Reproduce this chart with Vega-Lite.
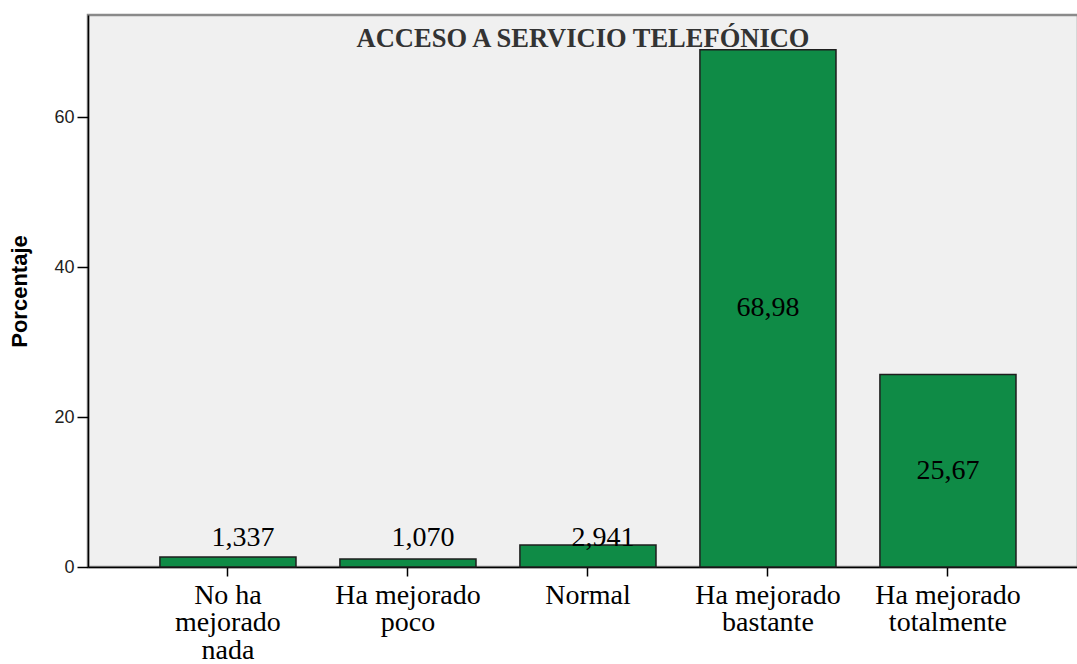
{
  "$schema": "https://vega.github.io/schema/vega-lite/v6.json",
  "autosize": "none",
  "padding": {"left": 88, "top": 15, "right": 0, "bottom": 97},
  "width": 990,
  "height": 552,
  "background": "white",
  "config": {
    "view": {"fill": "#f0f0f0", "stroke": "#8a8a8a", "strokeWidth": 2.5},
    "locale": {"number": {"decimal": ",", "thousands": ".", "grouping": [3], "currency": ["", ""]}}
  },
  "title": {
    "text": "ACCESO A SERVICIO TELEFÓNICO",
    "font": "Liberation Serif",
    "fontSize": 26.5,
    "fontWeight": "bold",
    "color": "#333333",
    "anchor": "middle",
    "baseline": "alphabetic",
    "offset": -58
  },
  "data": {
    "values": [
      {"categoria": "No ha mejorado nada", "porcentaje": 1.337},
      {"categoria": "Ha mejorado poco", "porcentaje": 1.070},
      {"categoria": "Normal", "porcentaje": 2.941},
      {"categoria": "Ha mejorado bastante", "porcentaje": 68.98},
      {"categoria": "Ha mejorado totalmente", "porcentaje": 25.67}
    ]
  },
  "layer": [
    {
      "mark": {"type": "bar", "fill": "#0f8b46", "stroke": "#1e1e1e", "strokeWidth": 1.5},
      "encoding": {
        "x": {
          "field": "categoria",
          "type": "nominal",
          "sort": null,
          "scale": {
            "domain": ["No ha mejorado nada", "Ha mejorado poco", "Normal", "Ha mejorado bastante", "Ha mejorado totalmente"],
            "paddingInner": 0.244,
            "paddingOuter": 0.372,
            "align": 0.537
          },
          "axis": {
            "title": null,
            "labelAngle": 0,
            "labelFont": "Liberation Serif",
            "labelFontSize": 28,
            "labelColor": "black",
            "labelBaseline": "alphabetic",
            "labelPadding": 27,
            "labelLineHeight": 27.5,
            "labelLimit": 0,
            "labelOverlap": false,
            "tickSize": 9,
            "tickColor": "black",
            "tickWidth": 1.5,
            "domainColor": "black",
            "domainWidth": 1.5,
            "labelExpr": "datum.label == 'No ha mejorado nada' ? ['No ha', 'mejorado', 'nada'] : datum.label == 'Normal' ? 'Normal' : ['Ha mejorado', slice(datum.label, 12)]"
          }
        },
        "y": {
          "field": "porcentaje",
          "type": "quantitative",
          "scale": {"domain": [0, 73.6], "nice": false},
          "axis": {
            "values": [0, 20, 40, 60],
            "title": "Porcentaje",
            "titleFont": "Liberation Sans",
            "titleFontSize": 22,
            "titleFontWeight": "bold",
            "titleColor": "black",
            "titlePadding": 22,
            "labelFont": "Liberation Sans",
            "labelFontSize": 18,
            "labelColor": "#222222",
            "labelPadding": 3,
            "tickSize": 11,
            "tickColor": "black",
            "tickWidth": 1.5,
            "domainColor": "black",
            "domainWidth": 1.5,
            "grid": false
          }
        }
      }
    },
    {
      "transform": [{"filter": "datum.porcentaje > 10"}],
      "mark": {"type": "text", "font": "Liberation Serif", "fontSize": 28, "baseline": "middle", "align": "center", "color": "black"},
      "encoding": {
        "x": {"field": "categoria", "type": "nominal", "sort": null},
        "y": {"field": "porcentaje", "type": "quantitative", "scale": {"domain": [0, 147.2], "nice": false}, "axis": null},
        "text": {"field": "porcentaje", "type": "quantitative", "format": ".4r"}
      }
    },
    {
      "transform": [{"filter": "datum.porcentaje <= 10"}],
      "mark": {"type": "text", "font": "Liberation Serif", "fontSize": 28, "baseline": "alphabetic", "align": "center", "dx": 15, "color": "black"},
      "encoding": {
        "x": {"field": "categoria", "type": "nominal", "sort": null},
        "y": {"datum": 2.8, "type": "quantitative", "scale": {"domain": [0, 73.6], "nice": false}, "axis": null},
        "text": {"field": "porcentaje", "type": "quantitative", "format": ".4r"}
      }
    }
  ],
  "resolve": {"scale": {"y": "independent"}}
}
